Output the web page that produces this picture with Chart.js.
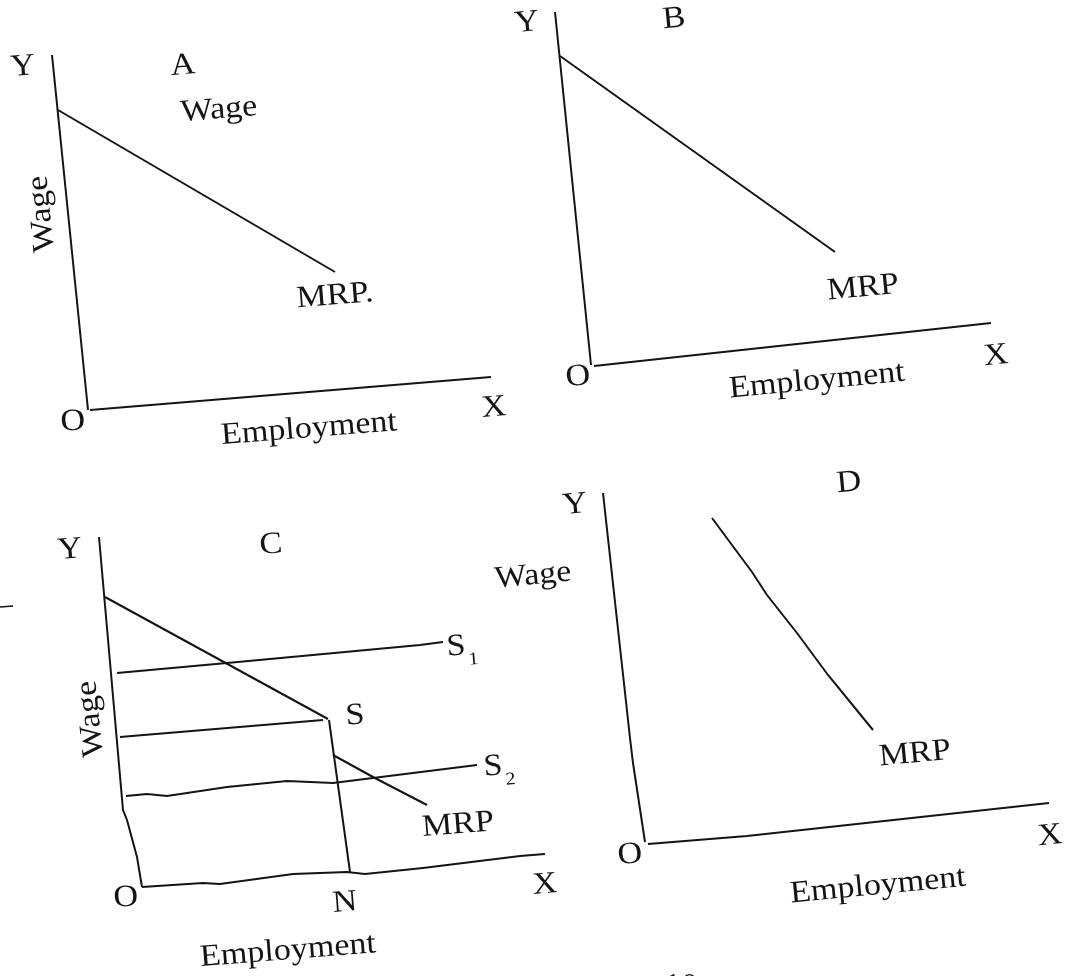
<!DOCTYPE html>
<html>
<head>
<meta charset="utf-8">
<style>
  html, body { margin: 0; padding: 0; background: #ffffff; }
  #wrap { width: 1078px; height: 976px; }
  canvas { display: block; }
</style>
<script src="https://cdn.jsdelivr.net/npm/chart.js@4.4.1/dist/chart.umd.min.js"></script>
</head>
<body>
<div id="wrap"><canvas id="c" width="1078" height="976"></canvas></div>
<script>
// ---- Data (page units of the scanned figure) ----
// Panel A
const aYAxis = [{x:52,y:55},{x:88,y:410}];
const aXAxis = [{x:90,y:410},{x:491,y:377}];
const aMRP   = [{x:58,y:110},{x:335,y:272}];
// Panel B
const bYAxis = [{x:555,y:12},{x:591,y:365}];
const bXAxis = [{x:594,y:366},{x:991,y:323}];
const bMRP   = [{x:560,y:56},{x:835,y:252}];
// Panel C
const cYAxis = [{x:99,y:537},{x:123,y:810},{x:127,y:820},{x:137,y:857},{x:142,y:887}];
const cXAxis = [{x:142,y:887},{x:203,y:883},{x:220,y:884},{x:293,y:874},{x:347,y:872},{x:365,y:874},{x:423,y:868},{x:520,y:856},{x:545,y:854}];
const cMRPTop = [{x:105,y:597},{x:328,y:719}];
const cVertSN = [{x:329,y:720},{x:350,y:872}];
const cMRPLow = [{x:333,y:755},{x:373,y:777},{x:427,y:805}];
const cS1     = [{x:117,y:673},{x:227,y:663},{x:420,y:645},{x:443,y:642}];
const cSLine  = [{x:120,y:737},{x:323,y:720}];
const cS2     = [{x:126,y:796},{x:147,y:794},{x:167,y:796},{x:227,y:787},{x:287,y:781},{x:333,y:783},{x:373,y:778},{x:477,y:765}];
const cMark   = [{x:0,y:607},{x:13,y:606}];
// Panel D
const dYAxis = [{x:603,y:493},{x:630,y:738},{x:633,y:763},{x:645,y:842}];
const dXAxis = [{x:648,y:844},{x:747,y:836},{x:1049,y:803}];
const dMRP   = [{x:712,y:518},{x:752,y:572},{x:767,y:595},{x:797,y:633},{x:828,y:675},{x:873,y:730}];

// Text labels: text and anchor value
const aLabels = [
  {t:'Y',x:23,y:67},{t:'A',x:183,y:66},{t:'Wage',x:219,y:110},{t:'MRP.',x:335,y:296},
  {t:'O',x:73,y:422},{t:'Employment',x:309,y:429},{t:'X',x:494,y:408}
];
const aVLabels = [{t:'Wage',x:42,y:214}];
const bLabels = [
  {t:'Y',x:527,y:23},{t:'B',x:674,y:19},{t:'MRP',x:863,y:288},
  {t:'O',x:578,y:377},{t:'Employment',x:817,y:381},{t:'X',x:996,y:356}
];
const cLabels = [
  {t:'Y',x:70,y:550},{t:'C',x:271,y:545},{t:'S',x:456,y:647,sub:'1'},{t:'S',x:355,y:716},
  {t:'S',x:493,y:767,sub:'2'},{t:'MRP',x:458,y:825},{t:'O',x:126,y:898},{t:'N',x:345,y:903},
  {t:'Employment',x:288,y:951},{t:'X',x:545,y:885}
];
const cVLabels = [{t:'Wage',x:91,y:719}];
const dLabels = [
  {t:'Y',x:575,y:505},{t:'D',x:849,y:483},{t:'Wage',x:533,y:576},{t:'MRP',x:915,y:754},
  {t:'O',x:630,y:855},{t:'Employment',x:878,y:886},{t:'X',x:1050,y:836}
];
const pageLabels = [{t:'10',x:681,y:987}];

// ---- Styles ----
const INK = '#141414';
const groups = [
  {labels:aLabels, rot:-4.5},
  {labels:aVLabels, rot:-95.5},
  {labels:bLabels, rot:-5.5},
  {labels:cLabels, rot:-4.5},
  {labels:cVLabels, rot:-96},
  {labels:dLabels, rot:-5.5},
  {labels:pageLabels, rot:0}
];

function lineDs(data, w) {
  return {data, showLine:true, pointRadius:0, borderColor:INK, borderWidth:w||2, tension:0, fill:false};
}

const textPlugin = {
  id:'texts',
  afterDatasetsDraw(chart) {
    const ctx = chart.ctx, xs = chart.scales.x, ys = chart.scales.y;
    ctx.save();
    ctx.fillStyle = INK;
    ctx.textAlign = 'center';
    ctx.textBaseline = 'middle';
    for (const g of groups) {
      for (const l of g.labels) {
        const px = xs.getPixelForValue(l.x), py = ys.getPixelForValue(l.y);
        ctx.save();
        ctx.translate(px, py);
        ctx.rotate(g.rot * Math.PI / 180);
        ctx.scale(1.1, 1);
        ctx.font = '31px "Liberation Serif", serif';
        ctx.fillText(l.t, 0, 0);
        if (l.sub) {
          ctx.font = '18px "Liberation Serif", serif';
          ctx.fillText(l.sub, 15, 14);
        }
        ctx.restore();
      }
    }
    ctx.restore();
  }
};

new Chart(document.getElementById('c'), {
  type:'scatter',
  data:{datasets:[
    lineDs(aYAxis), lineDs(aXAxis), lineDs(aMRP),
    lineDs(bYAxis), lineDs(bXAxis), lineDs(bMRP),
    lineDs(cYAxis), lineDs(cXAxis), lineDs(cMRPTop), lineDs(cVertSN), lineDs(cMRPLow),
    lineDs(cS1), lineDs(cSLine), lineDs(cS2), lineDs(cMark,1.5),
    lineDs(dYAxis), lineDs(dXAxis), lineDs(dMRP)
  ]},
  options:{
    responsive:false,
    devicePixelRatio:1,
    animation:false,
    layout:{padding:0},
    plugins:{legend:{display:false}, tooltip:{enabled:false}},
    scales:{
      x:{type:'linear', min:0, max:1078, display:false},
      y:{type:'linear', min:0, max:976, reverse:true, display:false}
    }
  },
  plugins:[textPlugin]
});
</script>
</body>
</html>
